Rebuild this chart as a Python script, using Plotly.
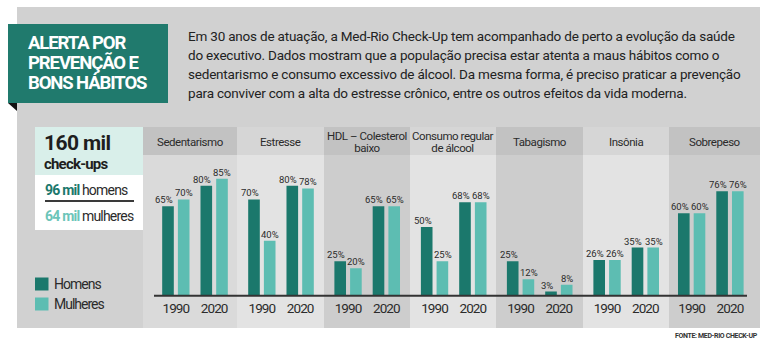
import plotly.graph_objects as go

# ---- data ----
categories = [["Sedentarismo"], ["Estresse"], ["HDL – Colesterol", "baixo"],
              ["Consumo regular", "de álcool"], ["Tabagismo"], ["Insônia"], ["Sobrepeso"]]
years = ["1990", "2020"]
homens = [[65, 80], [70, 80], [25, 65], [50, 68], [25, 3], [26, 35], [60, 76]]
mulheres = [[70, 85], [40, 78], [20, 65], [25, 68], [12, 8], [26, 35], [60, 76]]
title_lines = ["ALERTA POR", "PREVENÇÃO E", "BONS HÁBITOS"]
intro_lines = [
    "Em 30 anos de atuação, a Med-Rio Check-Up tem acompanhado de perto a evolução da saúde",
    "do executivo. Dados mostram que a população precisa estar atenta a maus hábitos como o",
    "sedentarismo e consumo excessivo de álcool. Da mesma forma, é preciso praticar a prevenção",
    "para conviver com a alta do estresse crônico, entre os outros efeitos da vida moderna.",
]
total_checkups = "160 mil"
total_homens = "96 mil"
total_mulheres = "64 mil"
source = "FONTE: MED-RIO CHECK-UP"

# ---- style ----
W, H = 771, 347
FONT = "Roboto, Arial, sans-serif"
C_HOM = "#1b786c"
C_MUL = "#5dbdb2"
C_TXT = "#2b2b2b"


def X(px):
    return px / W


def Y(py):
    return 1 - py / H


def tight(text, ls, extra=""):
    """Wrap text in a span with reduced letter spacing (condensed look)."""
    return f"<span style='letter-spacing:{ls}px{extra}'>{text}</span>"


fig = go.Figure()
shapes = []
annotations = []

# background panels
shapes.append(dict(type="rect", xref="paper", yref="paper", x0=X(17), x1=X(760),
                   y0=Y(328), y1=Y(7), fillcolor="#d1d1d1", line_width=0, layer="below"))
col_edges = [143, 237, 324, 410, 496, 583, 669, 760]
for i in range(7):
    dark = i % 2 == 0
    body = "#cdcdcd" if dark else "#e3e3e3"
    if i == 0:
        body = "#dadada"
    head = "#c2c2c2" if dark else "#d6d6d6"
    shapes.append(dict(type="rect", xref="paper", yref="paper", x0=X(col_edges[i]), x1=X(col_edges[i + 1]),
                       y0=Y(328), y1=Y(155), fillcolor=body, line_width=0, layer="below"))
    shapes.append(dict(type="rect", xref="paper", yref="paper", x0=X(col_edges[i]), x1=X(col_edges[i + 1]),
                       y0=Y(155), y1=Y(127), fillcolor=head, line_width=0, layer="below"))
    # header: 11.5px glyphs on a 12px line pitch
    label = "<br>".join(tight(p, -0.45, ";font-size:11.5px") for p in categories[i])
    annotations.append(dict(xref="paper", yref="paper", x=X((col_edges[i] + col_edges[i + 1]) / 2),
                            y=Y(142), text=label, showarrow=False, xanchor="center",
                            yanchor="middle", font=dict(family=FONT, size=9.3, color=C_TXT)))

# bars: one x-axis per habit, all sharing the percentage axis
centers = [195, 281, 367.2, 453.7, 539.7, 626.2, 710.8]
half = 38.3
layout_axes = {}
for i in range(7):
    xa = "x" if i == 0 else f"x{i + 1}"
    key = "xaxis" if i == 0 else f"xaxis{i + 1}"
    for name, vals, col, shift in (("Homens", homens[i], C_HOM, -12.0),
                                   ("Mulheres", mulheres[i], C_MUL, 8.3)):
        fig.add_trace(go.Bar(x=years, y=vals, name=name, marker_color=col, marker_line_width=0,
                             hoverinfo="x+y+name", xaxis=xa, yaxis="y", showlegend=False))
        # value labels above each bar, nudged apart so neighbouring labels don't collide
        for j, v in enumerate(vals):
            annotations.append(dict(xref=xa, yref="y", x=j, y=v, text=f"{v}%", showarrow=False,
                                    xanchor="center", yanchor="bottom", xshift=shift, yshift=-1,
                                    font=dict(family=FONT, size=9.5, color=C_TXT)))
    layout_axes[key] = dict(domain=[X(centers[i] - half), X(centers[i] + half)], anchor="y",
                            type="category", categoryarray=years, range=[-0.5, 1.5],
                            showgrid=False, zeroline=False, showline=False, automargin=False,
                            tickvals=years, ticktext=[tight(y, -0.9) for y in years], tickangle=0,
                            ticks="outside", ticklen=0.5, tickcolor="rgba(0,0,0,0)",
                            tickfont=dict(family=FONT, size=13.5, color=C_TXT), fixedrange=True)

# baseline
shapes.append(dict(type="line", xref="paper", yref="paper", x0=X(154), x1=X(747),
                   y0=Y(295.7), y1=Y(295.7), line=dict(color="#333333", width=2)))

# title box (line spacing comes from the base size, glyph size from the span)
shapes.append(dict(type="rect", xref="paper", yref="paper", x0=X(8), x1=X(168),
                   y0=Y(103), y1=Y(24), fillcolor="#207a6d", line_width=0))
shapes.append(dict(type="path", xref="paper", yref="paper",
                   path=f"M{X(8)},{Y(103)} L{X(17)},{Y(103)} L{X(17)},{Y(111)} Z",
                   fillcolor="#111111", line_width=0))
title_text = "<br>".join(f"<b>{tight(t, -1.1, ';font-size:18.5px')}</b>" for t in title_lines)
annotations.append(dict(xref="paper", yref="paper", x=X(26), y=Y(63.3), text=title_text,
                        showarrow=False, xanchor="left", yanchor="middle", align="left",
                        font=dict(family=FONT, size=15.2, color="white")))

# intro text
for k, t in enumerate(intro_lines):
    annotations.append(dict(xref="paper", yref="paper", x=X(186), y=Y(36 + 19 * k), text=tight(t, -0.2),
                            showarrow=False, xanchor="left", yanchor="middle",
                            font=dict(family=FONT, size=13.5, color="#222222")))

# totals box
shapes.append(dict(type="rect", xref="paper", yref="paper", x0=X(35), x1=X(143),
                   y0=Y(175), y1=Y(127), fillcolor="#d9efea", line_width=0, layer="below"))
shapes.append(dict(type="rect", xref="paper", yref="paper", x0=X(35), x1=X(143),
                   y0=Y(230), y1=Y(175), fillcolor="#ffffff", line_width=0, layer="below"))
shapes.append(dict(type="line", xref="paper", yref="paper", x0=X(45), x1=X(134),
                   y0=Y(201), y1=Y(201), line=dict(color="#3a3a3a", width=2)))
total_text = (f"<b>{tight(total_checkups, -0.6, ';font-size:21px')}</b><br>"
              f"<b>{tight('check-ups', -0.8, ';font-size:15px')}</b>")
annotations += [
    dict(xref="paper", yref="paper", x=X(42), y=Y(152), text=total_text, align="left",
         showarrow=False, xanchor="left", yanchor="middle", font=dict(family=FONT, size=14.6, color="#1e1e1e")),
    dict(xref="paper", yref="paper", x=X(43), y=Y(190),
         text=f"<b>{tight(total_homens, -0.8, ';color:' + C_HOM)}</b>{tight(' homens', -0.8)}",
         showarrow=False, xanchor="left", yanchor="middle", font=dict(family=FONT, size=14, color=C_TXT)),
    dict(xref="paper", yref="paper", x=X(43), y=Y(215.5),
         text=f"<b>{tight(total_mulheres, -0.8, ';color:#6cc5b9')}</b>{tight(' mulheres', -0.8)}",
         showarrow=False, xanchor="left", yanchor="middle", font=dict(family=FONT, size=14, color=C_TXT)),
]

# legend
for k, (name, col) in enumerate((("Homens", C_HOM), ("Mulheres", C_MUL))):
    yc = 284 + 20 * k
    shapes.append(dict(type="rect", xref="paper", yref="paper", x0=X(35), x1=X(48.5),
                       y0=Y(yc + 6.5), y1=Y(yc - 6.5), fillcolor=col, line_width=0))
    annotations.append(dict(xref="paper", yref="paper", x=X(52), y=Y(yc), text=tight(name, -1.0),
                            showarrow=False, xanchor="left", yanchor="middle",
                            font=dict(family=FONT, size=14, color=C_TXT)))

# source
annotations.append(dict(xref="paper", yref="paper", x=X(760), y=Y(336), text=f"<b>{tight(source, -0.35)}</b>",
                        showarrow=False, xanchor="right", yanchor="middle",
                        font=dict(family=FONT, size=7, color="#333333")))

fig.update_layout(
    width=W, height=H, margin=dict(l=0, r=0, t=0, b=0, autoexpand=False),
    paper_bgcolor="white", plot_bgcolor="rgba(0,0,0,0)",
    barmode="group", bargap=0.18, bargroupgap=0.26,
    showlegend=False, shapes=shapes, annotations=annotations,
    yaxis=dict(domain=[Y(295.7), Y(158.2)], range=[0, 100], visible=False, fixedrange=True),
    **layout_axes,
)

fig.write_html("out.html", config={"displayModeBar": False})
